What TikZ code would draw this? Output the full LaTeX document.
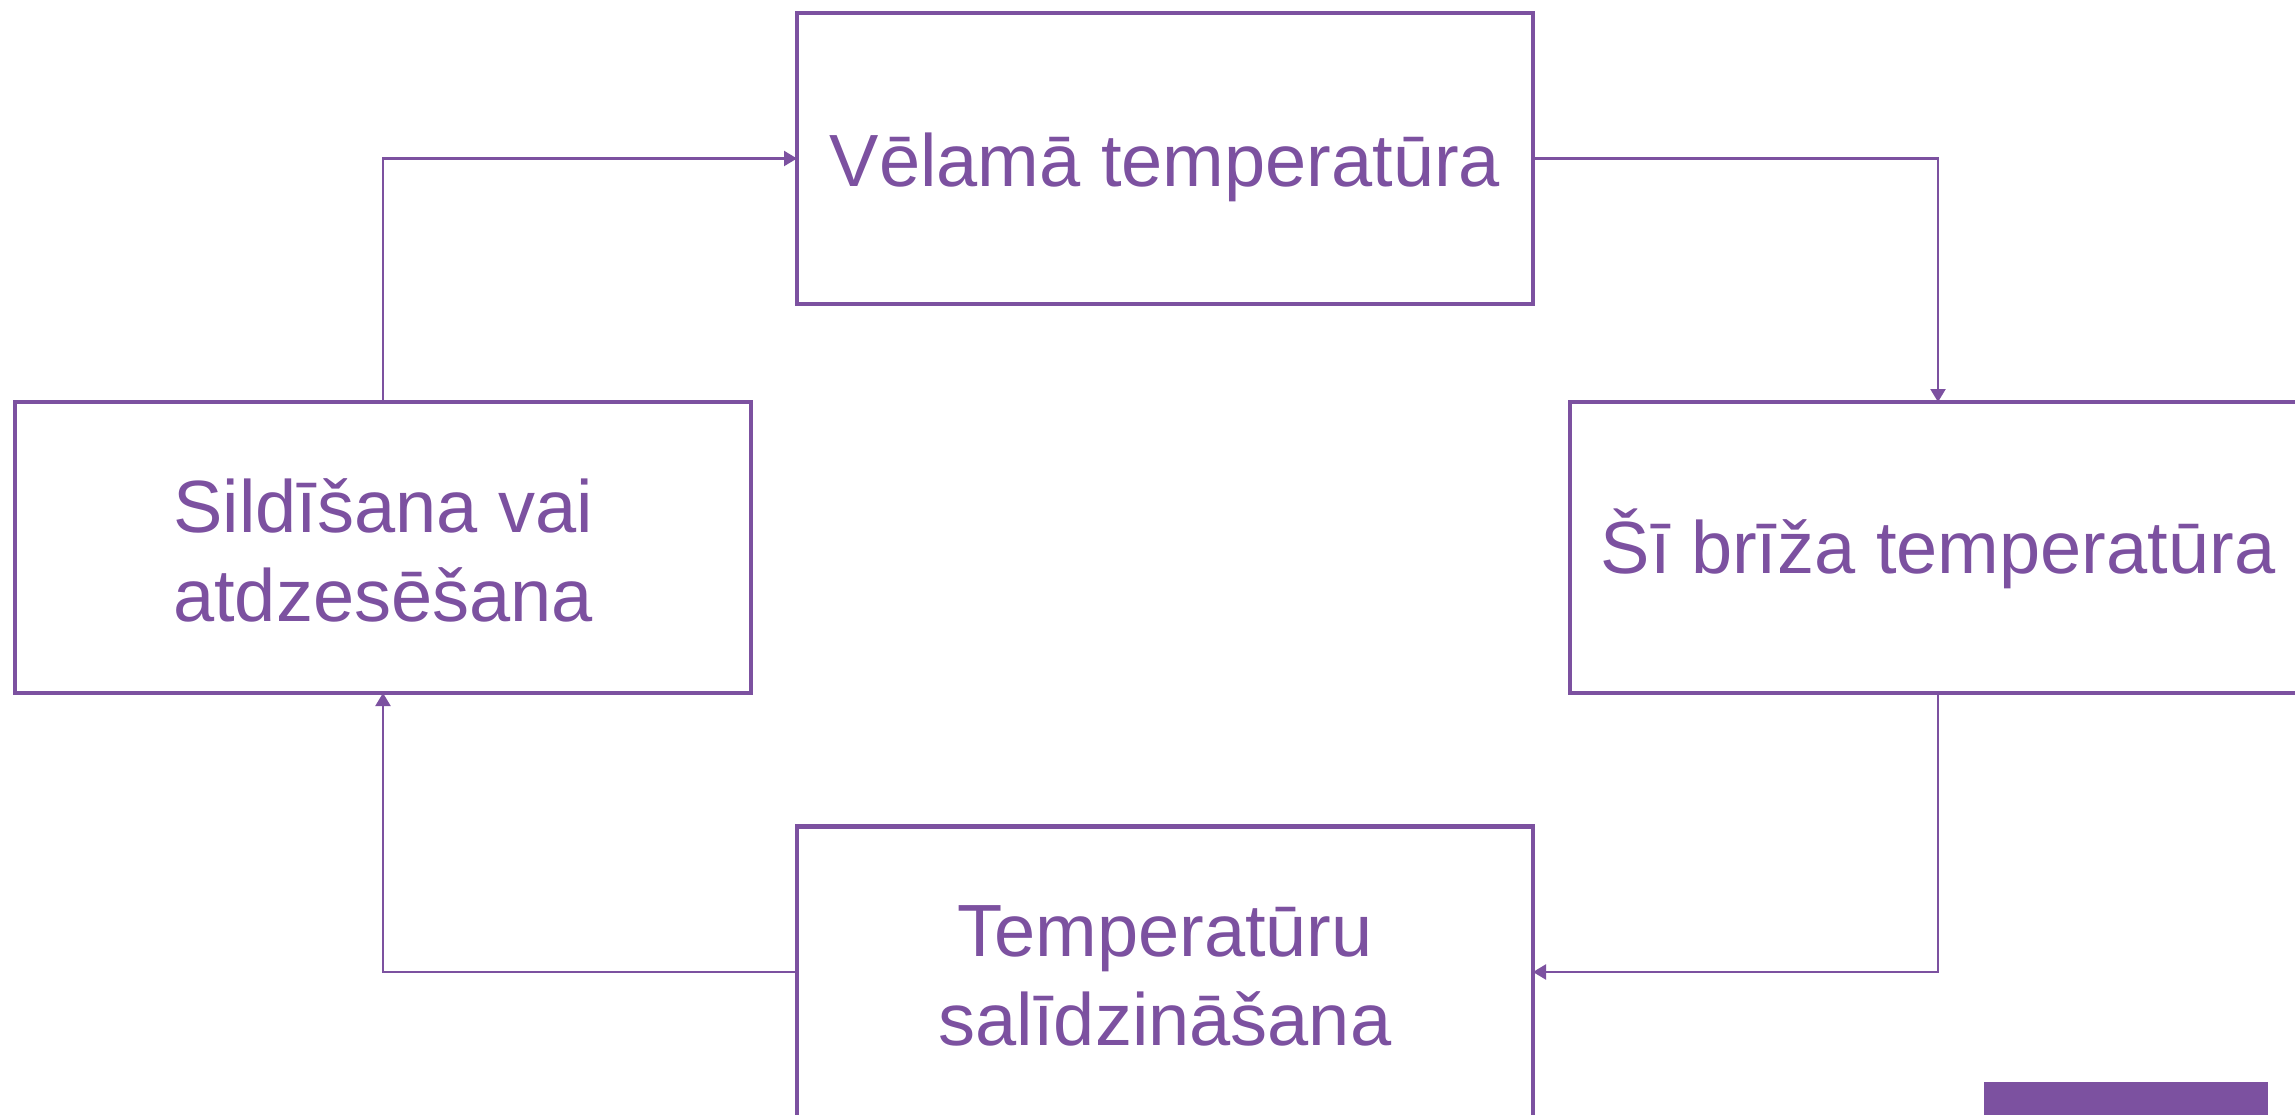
\documentclass[tikz,border=0pt]{standalone}
\usepackage{fontspec}
\setmainfont{Liberation Sans}
\usetikzlibrary{arrows.meta}
\definecolor{vio}{RGB}{124,81,160}
\tikzset{
  box/.style={draw=vio, line width=4.5pt, minimum width=736pt, minimum height=291pt,
    inner sep=0pt, outer sep=0pt},
  lbl/.style={align=center, text=vio, inner sep=0pt,
    font=\fontsize{74pt}{89pt}\selectfont},
  conn/.style={draw=vio, line width=2.2pt, -{Triangle[length=13pt,width=15pt]}}
}
\begin{document}
\begin{tikzpicture}[x=1pt,y=-1pt]
\useasboundingbox[fill=white] (0,0) rectangle (2295,1115);
\node[box] (top) at (1165,158.5) {};
\node[box] (left) at (383,547.5) {};
\node[box] (right) at (1938,547.5) {};
\node[box] (bot) at (1165,972) {};
\node[lbl] (topt) at ([yshift=-9pt]top.center) {Vēlamā temperatūra};
\node[lbl] (leftt) at ([yshift=-3pt]left.center) {Sildīšana vai\\atdzesēšana};
\node[lbl] (rightt) at ([yshift=-1.5pt]right.center) {Šī brīža temperatūra};
\node[lbl] (bott) at ([yshift=-4pt]bot.center) {Temperatūru\\salīdzināšana};
\fill[vio] (1984,1082) rectangle (2268,1115);
\draw[conn] (left.north) |- (top.west);
\draw[conn] (top.east) -| (right.north);
\draw[conn] (right.south) |- (bot.east);
\draw[conn] (bot.west) -| (left.south);
\end{tikzpicture}
\end{document}
